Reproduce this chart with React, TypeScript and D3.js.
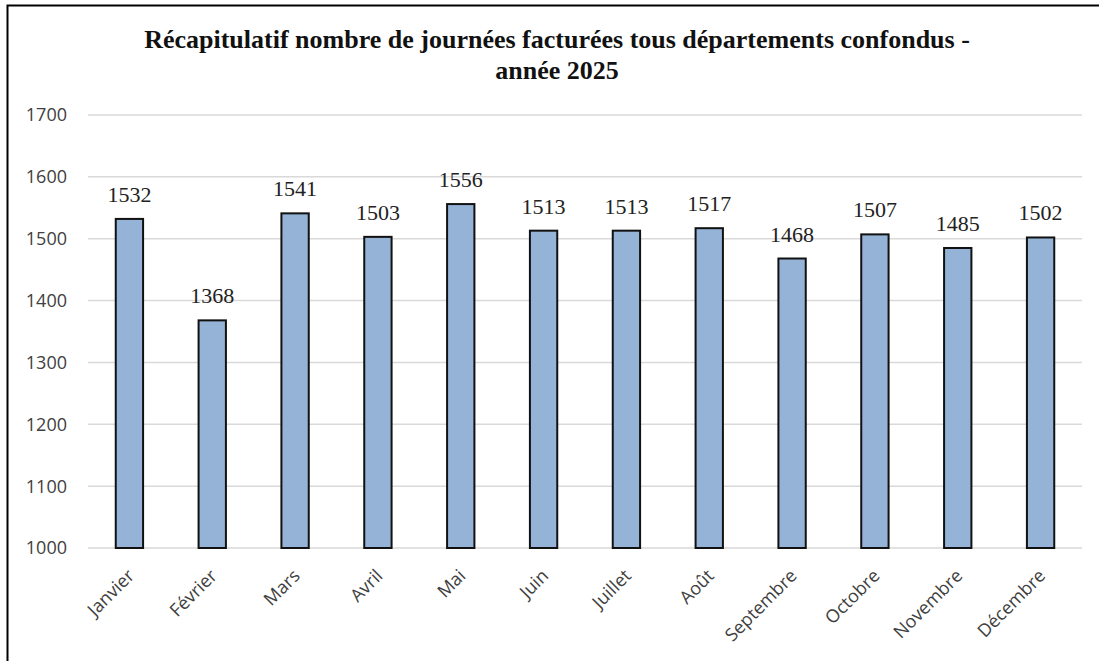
import React, { useEffect, useRef } from "react";
import * as d3 from "d3";

const months = [
  "Janvier", "Février", "Mars", "Avril", "Mai", "Juin",
  "Juillet", "Août", "Septembre", "Octobre", "Novembre", "Décembre",
];
const journees = [1532, 1368, 1541, 1503, 1556, 1513, 1513, 1517, 1468, 1507, 1485, 1502];
const yTicks = [1000, 1100, 1200, 1300, 1400, 1500, 1600, 1700];
const titleLines = [
  "Récapitulatif nombre de journées facturées tous départements confondus -",
  "année 2025",
];

export default function App() {
  const ref = useRef<SVGSVGElement>(null);

  useEffect(() => {
    const width = 1099;
    const height = 661;
    const margin = { top: 115, right: 17, bottom: 113, left: 88 };
    const svg = d3.select(ref.current);
    svg.selectAll("*").remove();

    svg.append("rect").attr("width", width).attr("height", height).attr("fill", "white");

    // chart border (runs off the right / bottom of the image)
    svg.append("rect")
      .attr("x", 7.5).attr("y", 5.5)
      .attr("width", width + 10).attr("height", height + 10)
      .attr("fill", "none").attr("stroke", "black").attr("stroke-width", 2);

    const x = d3.scaleBand<string>()
      .domain(months)
      .range([margin.left, width - margin.right])
      .paddingInner(0.67)
      .paddingOuter(0.335);

    const y = d3.scaleLinear()
      .domain([1000, 1700])
      .range([height - margin.bottom, margin.top]);

    // title
    svg.append("g")
      .selectAll("text")
      .data(titleLines)
      .join("text")
      .attr("x", 557)
      .attr("y", (d, i) => 48 + i * 31)
      .attr("text-anchor", "middle")
      .attr("font-family", "'Liberation Serif', 'Times New Roman', serif")
      .attr("font-weight", "bold")
      .attr("font-size", 26)
      .attr("fill", "#111")
      .text((d) => d);

    // gridlines
    svg.append("g")
      .selectAll("line")
      .data(yTicks)
      .join("line")
      .attr("x1", margin.left)
      .attr("x2", width - margin.right)
      .attr("y1", (d) => y(d))
      .attr("y2", (d) => y(d))
      .attr("stroke", "#d9d9d9")
      .attr("stroke-width", 1.5);

    // y tick labels
    svg.append("g")
      .selectAll("text")
      .data(yTicks)
      .join("text")
      .attr("x", 67)
      .attr("y", (d) => y(d))
      .attr("dy", "0.36em")
      .attr("text-anchor", "end")
      .attr("font-family", "'Open Sans', 'Liberation Sans', sans-serif")
      .attr("font-size", 18)
      .attr("fill", "#404040")
      .text((d) => d);

    // bars
    svg.append("g")
      .selectAll("rect")
      .data(journees)
      .join("rect")
      .attr("x", (d, i) => x(months[i])!)
      .attr("y", (d) => y(d))
      .attr("width", x.bandwidth())
      .attr("height", (d) => y(1000) - y(d))
      .attr("fill", "#95b3d7")
      .attr("stroke", "#111")
      .attr("stroke-width", 2);

    // value labels
    svg.append("g")
      .selectAll("text")
      .data(journees)
      .join("text")
      .attr("x", (d, i) => x(months[i])! + x.bandwidth() / 2)
      .attr("y", (d) => y(d) - 17)
      .attr("text-anchor", "middle")
      .attr("font-family", "'Liberation Serif', 'Times New Roman', serif")
      .attr("font-size", 22)
      .attr("fill", "#222")
      .text((d) => d);

    // month labels, rotated
    svg.append("g")
      .selectAll("text")
      .data(months)
      .join("text")
      .attr("transform", (d) => {
        const cx = x(d)! + x.bandwidth() / 2 - 3;
        return `translate(${cx},${y(1000) + 20}) rotate(-45)`;
      })
      .attr("text-anchor", "end")
      .attr("dy", "0.7em")
      .attr("font-family", "'Open Sans', 'Liberation Sans', sans-serif")
      .attr("font-size", 18)
      .attr("fill", "#404040")
      .text((d) => d);
  }, []);

  return (
    <svg
      ref={ref}
      width={1099}
      height={661}
      style={{ position: "absolute", left: 0, top: 0 }}
    />
  );
}
